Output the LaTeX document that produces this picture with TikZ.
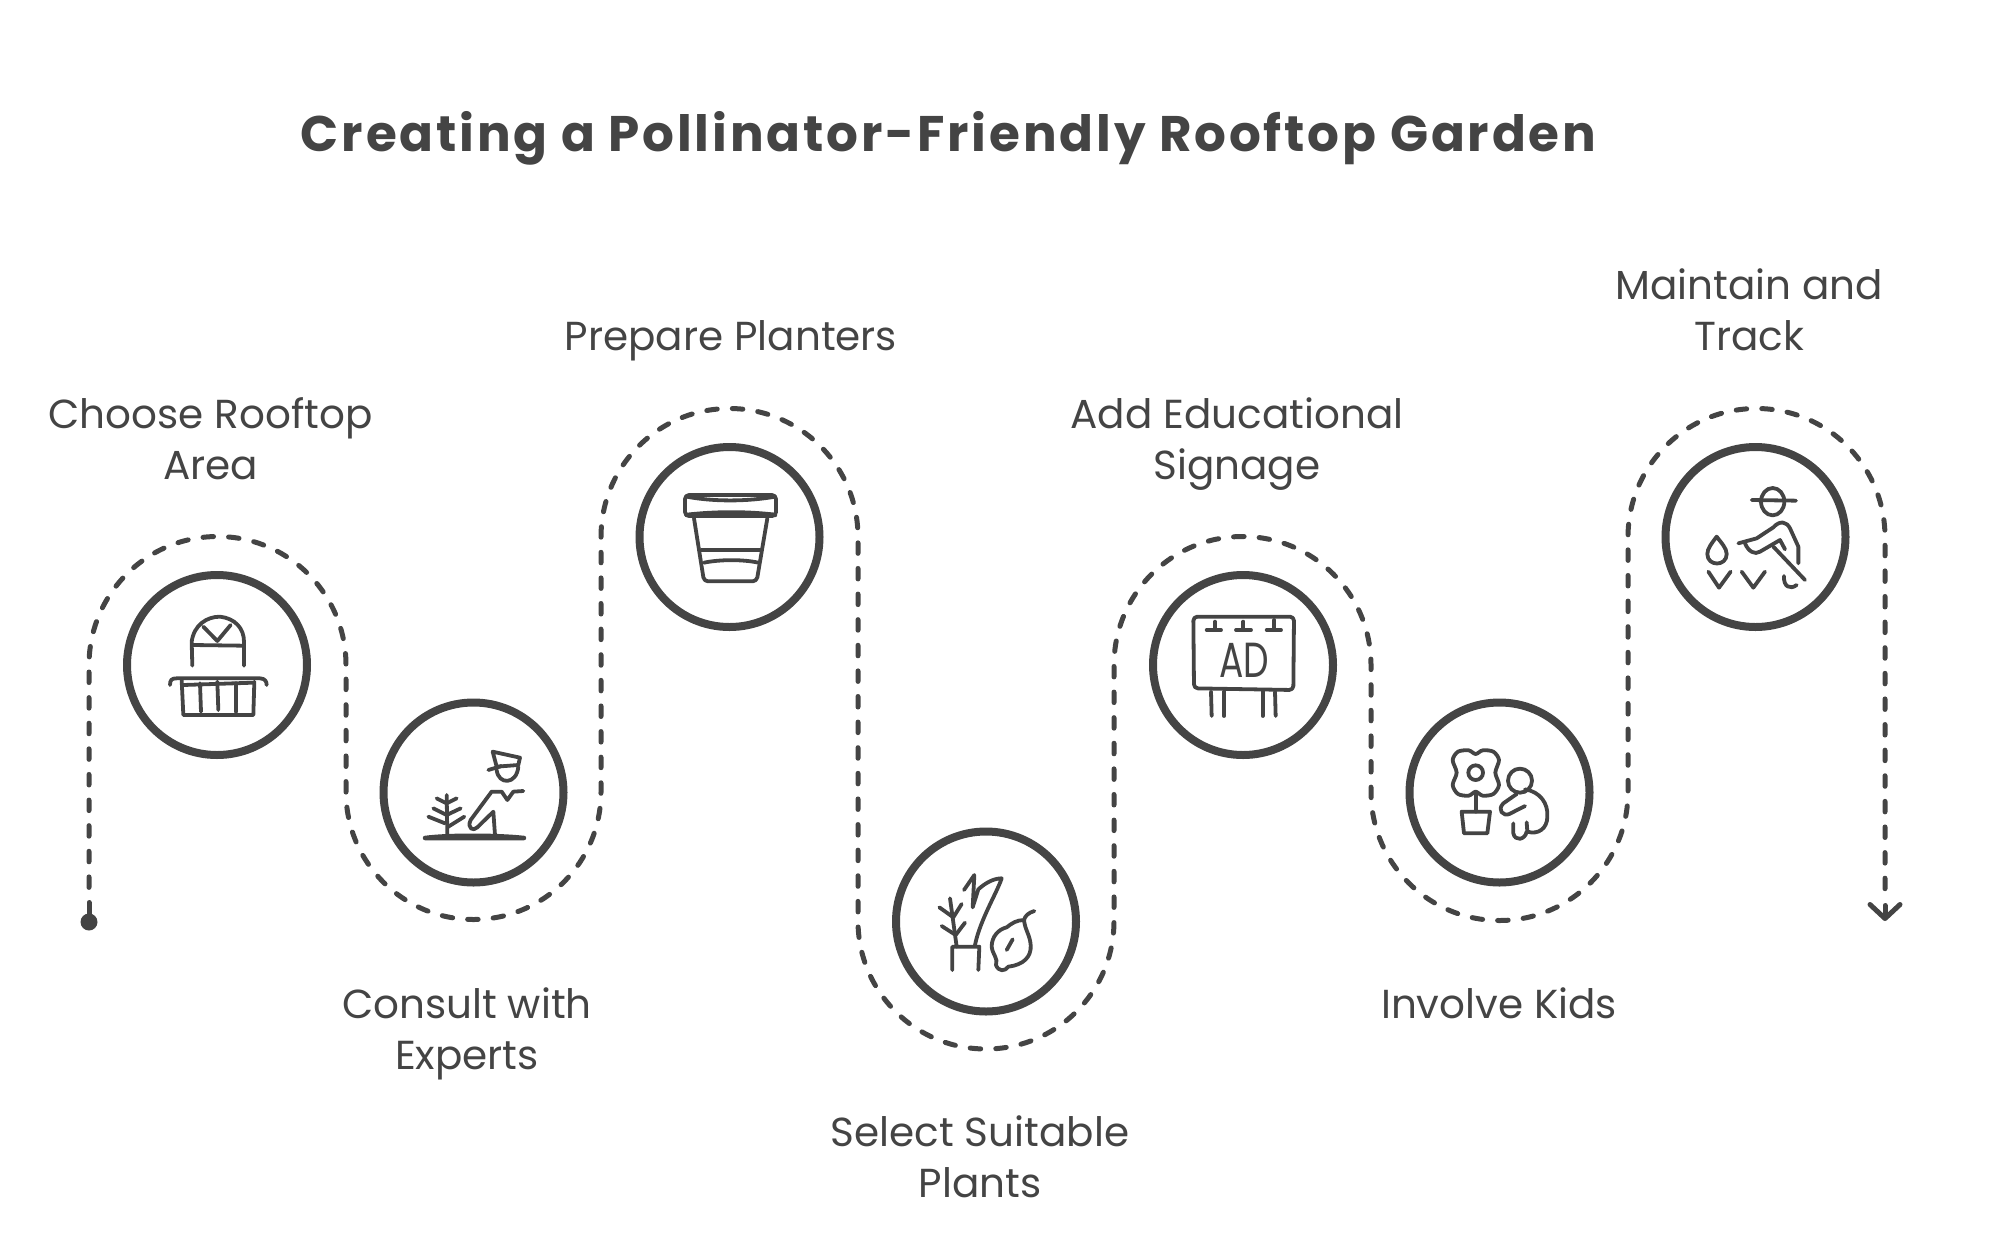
\documentclass[tikz,border=0pt]{standalone}
\usepackage{fontspec}
\setmainfont{Poppins}
\usepackage{xcolor}
\usepackage{graphicx}
\usetikzlibrary{arrows.meta}
\definecolor{ink}{HTML}{444444}
\tikzset{
  ring/.style={circle,draw=ink,line width=8pt,minimum size=180pt,inner sep=0pt},
  trail/.style={draw=ink,line width=5pt,line cap=round,dash pattern=on 10.5pt off 15.11pt,dash phase=10.5pt},
  stem/.style={draw=ink,line width=5pt,line cap=round},
  ico/.style={draw=ink,line width=3.8pt,line cap=round,line join=round},
  lbl/.style={text=ink,align=center,font=\fontsize{40.5}{51}\selectfont},
  ttl/.style={text=ink,font=\bfseries\addfontfeatures{LetterSpace=5.7}\fontsize{50}{56}\selectfont},
  zm/.style={shift={#1},scale=0.33333}
}
\begin{document}
\begin{tikzpicture}[x=1pt,y=-1pt]
\useasboundingbox (0,0) rectangle (2000,1256);
\node[ttl] (title) at (948.5,138) {Creating a Pollinator-Friendly Rooftop Garden};
\node[ring] (rooftop) at (217,665) {};
\node[ring] (experts) at (473.5,792.5) {};
\node[ring] (planters) at (729.5,537) {};
\node[ring] (plants) at (986,921.5) {};
\node[ring] (signage) at (1243,665) {};
\node[ring] (kids) at (1499.5,792.5) {};
\node[ring] (track) at (1755.5,537) {};
\node[lbl] (lrooftop) at (210.5,438.5) {Choose Rooftop\\Area};
\node[lbl] (lexperts) at (467,1033.5) {Consult with\\Experts};
\node[lbl] (lplanters) at (731,341) {Prepare Planters};
\node[lbl] (lplants) at (980,1156.5) {Select Suitable\\Plants};
\node[lbl] (lsignage) at (1237,444) {Add Educational\\Signage};
\node[lbl] (lkids) at (1499,1003) {Involve Kids};
\node[lbl] (ltrack) at (1749,310) {Maintain and\\Track};
\node[circle,fill=ink,minimum size=17pt,inner sep=0pt] (startdot) at (89,922) {};
\coordinate (stemtop) at (89,902.5);
\coordinate (tailtop) at (1885,905.5);
\coordinate (arrowend) at (1885,921);
\draw[stem] (startdot.center) -- (stemtop);
\draw[trail] (stemtop) -- (89,665) arc[start angle=180,end angle=360,radius=128.5]
  -- (346,792) arc[start angle=180,end angle=0,radius=127.5]
  -- (601,537) arc[start angle=180,end angle=360,radius=128.5]
  -- (858,921) arc[start angle=180,end angle=0,radius=128]
  -- (1114,665) arc[start angle=180,end angle=360,radius=128.5]
  -- (1371,792) arc[start angle=180,end angle=0,radius=128.5]
  -- (1628,537) arc[start angle=180,end angle=360,radius=128.5]
  -- (1885,890.5);
\draw[stem,-{Straight Barb[length=14pt,width=30pt,round]}] (tailtop) -- (arrowend);
\begin{scope}[zm={(120,570)}]
\draw[ico] (217,287) -- (215,215) .. controls (222,165) and (260,140) .. (300,140) .. controls (345,145) and (372,175) .. (372,215) -- (372,287);
\draw[ico] (220,225) -- (366,227);
\draw[ico] (250,170) -- (292,213) -- (332,165);
\draw[ico] (150,345) .. controls (150,330) and (155,325) .. (170,325) -- (420,325) .. controls (435,325) and (440,335) .. (440,345);
\draw[ico] (185,330) -- (190,435) -- (400,435) -- (403,335);
\draw[ico] (190,345) -- (400,338);
\draw[ico] (240,340) -- (243,425);
\draw[ico] (292,335) -- (295,420);
\draw[ico] (348,340) -- (348,425);
\draw[ico] (1118,545) -- (1200,563) -- (1195,585) -- (1130,590) -- cycle;
\draw[ico] (1105,600) -- (1145,588);
\draw[ico] (1130,600) .. controls (1135,645) and (1190,645) .. (1195,590);
\draw[ico] (1210,663) -- (1180,665) -- (1162,690) -- (1145,665) -- (1115,665) -- (1052,750) .. controls (1040,775) and (1060,785) .. (1072,772) -- (1120,725) -- (1125,795);
\draw[ico] (980,675) -- (982,795);
\draw[ico] (950,685) -- (980,700) -- (1010,685);
\draw[ico] (940,715) -- (980,735) -- (1022,715);
\draw[ico] (925,740) -- (975,760);
\draw[ico] (1033,740) -- (985,770);
\draw[ico,line width=4.5pt] (915,804) .. controls (980,795) and (1130,795) .. (1212,804) -- cycle;
\end{scope}
\begin{scope}[zm={(630,440)}]
\draw[ico,rounded corners=4pt] (165,165) -- (438,165) -- (438,228) -- (165,228) -- cycle;
\draw[ico] (170,170) .. controls (250,185) and (350,185) .. (435,170);
\draw[ico,line width=4.5pt] (170,225) .. controls (260,215) and (350,215) .. (435,225);
\draw[ico,rounded corners=4pt] (192,235) -- (222,424) -- (380,424) -- (412,235);
\draw[ico] (215,330) -- (390,330);
\draw[ico] (222,368) .. controls (270,358) and (340,358) .. (385,368);
\end{scope}
\begin{scope}[zm={(890,830)}]
\draw[ico] (187,420) -- (187,350) -- (268,350) -- (265,420);
\draw[ico] (180,205) -- (200,350);
\draw[ico] (148,232) -- (190,262) -- (215,222);
\draw[ico] (155,288) -- (197,315) -- (225,278);
\draw[ico] (222,180) -- (253,135) -- (248,232) -- (265,178) .. controls (290,155) and (315,145) .. (335,145) .. controls (320,190) and (270,270) .. (255,345);
\draw[ico] (433,243) .. controls (415,248) and (405,258) .. (402,270) .. controls (380,270) and (365,280) .. (350,292) .. controls (325,298) and (305,320) .. (305,350) .. controls (308,375) and (325,385) .. (318,405) .. controls (325,425) and (345,425) .. (355,410) .. controls (400,405) and (425,380) .. (422,345) .. controls (420,315) and (405,300) .. (402,270);
\draw[ico] (350,360) -- (368,328);
\end{scope}
\begin{scope}[zm={(1150,570)}]
\draw[ico,rounded corners=4pt] (130,140) -- (432,140) -- (430,360) -- (132,355) -- cycle;
\draw[ico] (195,155) -- (195,180);
\draw[ico] (170,180) -- (213,180);
\draw[ico] (280,155) -- (280,180);
\draw[ico] (258,180) -- (303,180);
\draw[ico] (373,150) -- (373,180);
\draw[ico] (350,180) -- (393,180);
\node[text=ink,font=\fontsize{44}{44}\selectfont] (adtext) at (283,270) {\scalebox{0.82}[1.12]{AD}};
\draw[ico] (183,365) -- (185,438);
\draw[ico] (222,365) -- (222,438);
\draw[ico] (338,365) -- (338,438);
\draw[ico] (375,365) -- (377,438);
\draw[ico] plot[smooth cycle] coordinates {(977,552) (998,541) (1030,545) (1047,570) (1036,608) (1047,645) (1030,672) (998,677) (977,665) (956,677) (924,672) (908,645) (920,608) (908,570) (924,545) (956,541)};
\draw[ico] (977,608) circle[radius=22];
\draw[ico] (977,668) -- (977,725);
\draw[ico] (935,725) -- (1020,725) -- (1012,790) -- (942,790) -- cycle;
\draw[ico] (1110,632) circle[radius=36];
\draw[ico] (1100,672) -- (1060,700) .. controls (1040,720) and (1060,740) .. (1078,732) -- (1125,708);
\draw[ico] (1125,658) .. controls (1170,665) and (1195,700) .. (1192,740) .. controls (1192,775) and (1165,795) .. (1132,785) -- (1130,757);
\draw[ico] (1130,785) .. controls (1125,810) and (1095,815) .. (1090,790) -- (1090,760);
\end{scope}
\begin{scope}[zm={(1660,440)}]
\draw[ico] (275,180) -- (408,182);
\draw[ico] (338,185) ellipse[x radius=35,y radius=41];
\draw[ico] (235,310) -- (290,295) -- (340,262) .. controls (360,240) and (380,245) .. (390,265) -- (415,320) -- (415,370);
\draw[ico] (255,310) .. controls (265,335) and (285,345) .. (300,335) -- (360,300) -- (375,328);
\draw[ico] (340,320) -- (435,420);
\draw[ico] (372,408) .. controls (370,440) and (390,450) .. (410,435);
\draw[ico] (170,290) .. controls (155,310) and (142,325) .. (142,342) .. controls (142,380) and (200,380) .. (200,342) .. controls (200,325) and (185,310) .. (170,290) -- cycle;
\draw[ico] (145,395) -- (177,443) -- (212,395);
\draw[ico] (245,395) -- (280,443) -- (315,395);
\end{scope}
\end{tikzpicture}
\end{document}
